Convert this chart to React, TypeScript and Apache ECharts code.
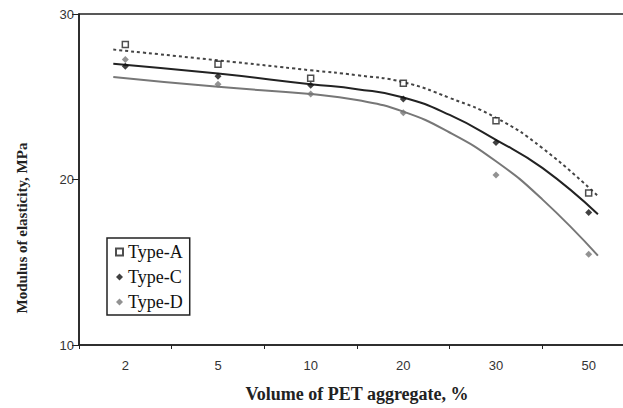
import React, { useEffect, useRef } from "react";
import * as echarts from "echarts";

const categories = ["2", "5", "10", "20", "30", "50"];
const typeA = [28.15, 26.96, 26.12, 25.82, 23.55, 19.19];
const typeC = [26.84, 26.24, 25.7, 24.87, 22.24, 18.0];
const typeD = [27.25, 25.76, 25.16, 24.03, 20.27, 15.49];

// trend curve positions on a 0..6 band scale (category i centre = i + 0.5)
const trendX = [0.37, 1.5, 2.5, 3.0, 3.5, 4.0, 4.5, 5.0, 5.6];
const trendA = [27.85, 27.2, 26.6, 26.3, 25.88, 24.93, 23.73, 21.9, 19.0];
const trendC = [27.0, 26.4, 25.76, 25.46, 24.96, 23.9, 22.4, 20.7, 17.9];
const trendD = [26.2, 25.6, 25.16, 24.8, 24.1, 22.84, 21.1, 18.8, 15.4];

const yTicks = [10, 20, 30];

const pair = (xs: number[], ys: number[]) => xs.map((x, i) => [x, ys[i]]);

export default function App() {
  const ref = useRef<HTMLDivElement>(null);
  useEffect(() => {
    document.body.style.margin = "0";
    const chart = echarts.init(ref.current!, null, { renderer: "svg" });
    const axisColor = "#222";
    chart.setOption({
      animation: false,
      backgroundColor: "#fff",
      grid: {
        left: 79,
        top: 14,
        width: 556,
        height: 334,
        show: true,
        borderColor: axisColor,
        borderWidth: 1.5,
      },
      legend: {
        data: ["Type-A", "Type-C", "Type-D"],
        orient: "vertical",
        left: 107,
        top: 238,
        itemWidth: 7,
        itemHeight: 7,
        itemGap: 7,
        padding: [5, 7, 4, 8],
        borderColor: "#222",
        borderWidth: 1.5,
        textStyle: { fontFamily: "Liberation Serif", fontSize: 18, color: "#111" },
      },
      xAxis: [
        {
          type: "category",
          data: categories,
          boundaryGap: true,
          axisLine: { lineStyle: { color: axisColor, width: 1.5 } },
          axisTick: { show: true, length: 4, lineStyle: { color: axisColor } },
          axisLabel: { fontFamily: "Liberation Sans", fontSize: 13, color: "#333", margin: 14 },
          splitLine: { show: false },
          name: "Volume of PET aggregate, %",
          nameLocation: "middle",
          nameGap: 40,
          nameTextStyle: { fontFamily: "Liberation Serif", fontWeight: "bold", fontSize: 18, color: "#222" },
        },
        {
          type: "value",
          min: 0,
          max: 6,
          show: false,
        },
      ],
      yAxis: {
        type: "value",
        min: yTicks[0],
        max: yTicks[yTicks.length - 1],
        interval: 10,
        axisLine: { show: true, lineStyle: { color: axisColor, width: 1.5 } },
        axisTick: { show: true, length: 7, lineStyle: { color: axisColor } },
        axisLabel: { fontFamily: "Liberation Sans", fontSize: 13, color: "#333", margin: 5 },
        splitLine: { show: false },
      },
      graphic: [
        {
          type: "text",
          x: 22,
          y: 228,
          rotation: Math.PI / 2,
          style: {
            text: "Modulus of elasticity, MPa",
            fontFamily: "Liberation Serif",
            fontWeight: "bold",
            fontSize: 15,
            fill: "#222",
            align: "center",
            verticalAlign: "middle",
          },
        },
      ],
      series: [
        {
          name: "trendA",
          type: "line",
          xAxisIndex: 1,
          data: pair(trendX, trendA),
          smooth: 0.5,
          symbol: "none",
          lineStyle: { color: "#444", width: 2, type: [3, 3] },
          z: 1,
        },
        {
          name: "trendC",
          type: "line",
          xAxisIndex: 1,
          data: pair(trendX, trendC),
          smooth: 0.5,
          symbol: "none",
          lineStyle: { color: "#222", width: 2 },
          z: 1,
        },
        {
          name: "trendD",
          type: "line",
          xAxisIndex: 1,
          data: pair(trendX, trendD),
          smooth: 0.5,
          symbol: "none",
          lineStyle: { color: "#777", width: 2 },
          z: 1,
        },
        {
          name: "Type-A",
          type: "scatter",
          data: typeA,
          symbol: "rect",
          symbolSize: 6,
          itemStyle: { color: "#fff", borderColor: "#222", borderWidth: 1.5 },
          z: 3,
        },
        {
          name: "Type-C",
          type: "scatter",
          data: typeC,
          symbol: "diamond",
          symbolSize: 7,
          itemStyle: { color: "#111" },
          z: 3,
        },
        {
          name: "Type-D",
          type: "scatter",
          data: typeD,
          symbol: "diamond",
          symbolSize: 7,
          itemStyle: { color: "#777" },
          z: 3,
        },
      ],
    });
    return () => chart.dispose();
  }, []);
  return (
    <div style={{ width: 623, height: 408, overflow: "hidden", position: "relative" }}>
      <div ref={ref} style={{ width: 660, height: 408 }} />
    </div>
  );
}
